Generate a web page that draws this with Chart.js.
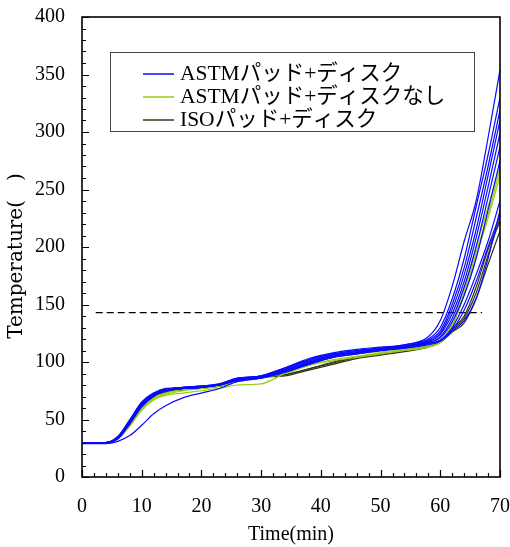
<!DOCTYPE html>
<html>
<head>
<meta charset="utf-8">
<script src="https://cdn.jsdelivr.net/npm/chart.js@4.4.0/dist/chart.umd.min.js"></script>
<style>
  html, body { margin: 0; padding: 0; background: #fff; }
  #wrap { width: 510px; height: 547px; position: relative; }
</style>
</head>
<body>
<div id="wrap"><canvas id="tempChart"></canvas></div>
<script>
// === DATA ===
const times = [0, 4, 6, 8, 10, 12, 14, 17, 20, 23, 26, 30, 34, 38, 42, 46, 50, 54, 58, 60, 62, 64, 66, 68, 70];

// ASTMパッド+ディスク (blue)
const astmDisc = [
    [30, 30, 35, 50, 65, 73, 76, 78, 79, 81, 86, 88, 95, 103, 108, 111, 113, 115, 122, 136, 166, 205, 240, 295, 354],
    [30, 30, 34, 49, 64, 72, 76, 78, 79, 81, 86, 88, 95, 102, 107, 110, 112, 115, 120, 130, 155, 190, 235, 280, 330],
    [30, 30, 34, 48, 64, 72, 76, 77, 78, 80, 85, 88, 94, 102, 107, 110, 112, 114, 119, 127, 150, 182, 225, 270, 319],
    [30, 30, 35, 49, 65, 73, 77, 78, 79, 80, 85, 87, 94, 101, 106, 109, 111, 114, 118, 125, 146, 176, 215, 262, 310],
    [30, 30, 34, 48, 63, 72, 76, 77, 78, 80, 84, 87, 93, 100, 106, 109, 111, 113, 118, 124, 142, 170, 208, 252, 299],
    [30, 30, 34, 47, 62, 71, 75, 77, 78, 80, 84, 87, 92, 99, 105, 108, 110, 113, 117, 122, 138, 165, 200, 243, 287],
    [30, 30, 34, 48, 63, 72, 76, 78, 79, 80, 85, 87, 93, 100, 105, 108, 111, 113, 117, 121, 135, 158, 190, 232, 275],
    [30, 30, 33, 46, 61, 70, 75, 77, 78, 80, 84, 87, 92, 98, 104, 107, 110, 112, 116, 119, 130, 150, 176, 205, 240],
    [30, 30, 34, 47, 62, 71, 75, 77, 78, 80, 84, 86, 91, 98, 104, 107, 110, 112, 115, 118, 127, 136, 155, 190, 232],
    [29, 29, 31, 36, 45, 55, 62, 69, 73, 77, 83, 86, 92, 99, 105, 108, 110, 113, 116, 119, 128, 145, 170, 200, 228],
];

// ASTMパッド+ディスクなし (yellow-green)
const astmNoDisc = [
    [30, 30, 33, 44, 58, 67, 71, 73, 75, 77, 80, 81, 90, 97, 101, 104, 107, 110, 113, 117, 130, 160, 195, 228, 268],
    [30, 30, 34, 46, 60, 69, 73, 76, 77, 79, 83, 86, 90, 97, 102, 105, 108, 110, 114, 118, 132, 158, 192, 225, 262],
    [30, 30, 34, 45, 59, 68, 72, 75, 77, 79, 84, 87, 92, 99, 104, 107, 109, 111, 115, 119, 134, 164, 200, 235, 270],
];

// ISOパッド+ディスク (dark olive)
const isoDisc = [
    [30, 30, 35, 48, 63, 71, 74, 76, 78, 79, 84, 87, 89, 94, 99, 104, 107, 110, 114, 118, 128, 138, 160, 193, 225],
    [30, 30, 35, 48, 62, 70, 74, 76, 78, 79, 84, 87, 88, 93, 98, 103, 106, 109, 113, 117, 126, 134, 155, 185, 214],
    [30, 30, 34, 47, 61, 70, 74, 76, 77, 79, 84, 87, 89, 94, 100, 104, 107, 110, 114, 118, 129, 140, 165, 198, 222],
];

const limitTemp = 143;
const limitRange = [2.3, 67];

const legendLabels = ['ASTMパッド+ディスク', 'ASTMパッド+ディスクなし', 'ISOパッド+ディスク'];
const legendColors = ['#0a0aff', '#9acd14', '#34341a'];

const xTicks = [0, 10, 20, 30, 40, 50, 60, 70];
const yTicks = [0, 50, 100, 150, 200, 250, 300, 350, 400];

const FONT = "'Liberation Serif', 'Noto Sans CJK JP', serif";
const Y_TITLE_FONT = "20px 'DejaVu Serif', serif";

function toPoints(values) {
    return values.map((v, i) => ({ x: times[i], y: v }));
}

function curveSet(list, color) {
    return list.map(values => ({
        data: toPoints(values),
        borderColor: color,
        borderWidth: 1.2,
        pointRadius: 0,
        fill: false,
        cubicInterpolationMode: 'monotone',
    }));
}

// === PLUGINS ===
// frame, inward minor/major ticks, y title, legend box
const framePlugin = {
    id: 'frame',
    afterDraw(chart) {
        const { ctx, chartArea: a, scales: { x, y } } = chart;
        ctx.save();
        ctx.strokeStyle = '#000';
        ctx.lineWidth = 1.6;
        ctx.strokeRect(a.left, a.top, a.right - a.left, a.bottom - a.top);

        ctx.lineWidth = 1.2;
        ctx.beginPath();
        for (let t = 0; t <= 70; t += 2) {
            const px = Math.round(x.getPixelForValue(t)) + 0.5;
            const len = t % 10 === 0 ? 7 : 4;
            ctx.moveTo(px, a.bottom);
            ctx.lineTo(px, a.bottom - len);
        }
        for (let v = 0; v <= 400; v += 10) {
            const py = Math.round(y.getPixelForValue(v)) + 0.5;
            const len = v % 50 === 0 ? 7 : 4;
            ctx.moveTo(a.left, py);
            ctx.lineTo(a.left + len, py);
        }
        ctx.stroke();

        // y axis title
        ctx.save();
        ctx.translate(17, 256);
        ctx.rotate(-Math.PI / 2);
        ctx.font = Y_TITLE_FONT;
        ctx.fillStyle = '#000';
        ctx.textAlign = 'center';
        ctx.textBaseline = 'middle';
        ctx.fillText('Temperature(   )', 0, 0);
        ctx.restore();

        // legend
        ctx.strokeStyle = '#444';
        ctx.lineWidth = 1;
        ctx.strokeRect(110.5, 52.5, 364, 79);
        ctx.font = '21.5px ' + FONT;
        ctx.textBaseline = 'middle';
        ctx.fillStyle = '#000';
        legendLabels.forEach((label, i) => {
            const cy = 74 + i * 23;
            ctx.strokeStyle = legendColors[i];
            ctx.lineWidth = 1.5;
            ctx.beginPath();
            ctx.moveTo(143, cy);
            ctx.lineTo(174, cy);
            ctx.stroke();
            ctx.fillText(label, 180, cy);
        });
        ctx.restore();
    }
};

// === CHART ===
function createTempChart() {
    const ctx = document.getElementById('tempChart').getContext('2d');
    const datasets = [
        ...curveSet(astmDisc, legendColors[0]),
        ...curveSet(astmNoDisc, legendColors[1]),
        ...curveSet(isoDisc, legendColors[2]),
        {
            data: limitRange.map(t => ({ x: t, y: limitTemp })),
            borderColor: '#000',
            borderWidth: 1.3,
            borderDash: [7, 4],
            pointRadius: 0,
            fill: false,
        },
    ];

    new Chart(ctx, {
        type: 'line',
        data: { datasets },
        options: {
            responsive: true,
            maintainAspectRatio: false,
            animation: false,
            layout: { padding: { left: 0, top: 17, right: 10, bottom: 0 } },
            plugins: { legend: { display: false }, tooltip: { enabled: false } },
            scales: {
                x: {
                    type: 'linear',
                    min: 0,
                    max: 70,
                    afterBuildTicks: s => { s.ticks = xTicks.map(v => ({ value: v })); },
                    afterFit: s => { s.height = 70; s.paddingLeft = 0; s.paddingRight = 0; },
                    grid: { display: false, drawTicks: false },
                    border: { display: false },
                    ticks: { color: '#000', padding: 18, maxRotation: 0, font: { size: 20, family: FONT } },
                    title: {
                        display: true,
                        text: 'Time(min)',
                        color: '#000',
                        padding: { top: 0, bottom: 0 },
                        font: { size: 20, family: FONT },
                    },
                },
                y: {
                    min: 0,
                    max: 400,
                    afterBuildTicks: s => { s.ticks = yTicks.map(v => ({ value: v })); },
                    afterFit: s => { s.width = 82; s.paddingTop = 0; s.paddingBottom = 0; },
                    grid: { display: false, drawTicks: false },
                    border: { display: false },
                    ticks: { color: '#000', padding: 17, font: { size: 20, family: FONT } },
                },
            },
        },
        plugins: [framePlugin],
    });
}

document.addEventListener('DOMContentLoaded', createTempChart);
</script>
</body>
</html>
